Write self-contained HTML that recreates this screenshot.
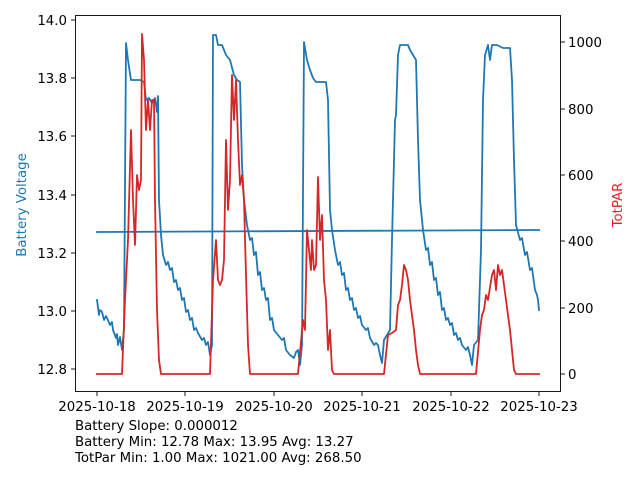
<!DOCTYPE html>
<html><head><meta charset="utf-8"><style>
body{margin:0;background:#fff;}
svg{display:block;font-family:"DejaVu Sans","Liberation Sans",sans-serif;}
</style></head><body>
<svg width="640" height="480" viewBox="0 0 640 480" xmlns="http://www.w3.org/2000/svg">
<rect width="640" height="480" fill="#fff"/>
<g fill="none" stroke-linejoin="round" stroke-linecap="square">
<polyline stroke="#1f77b4" stroke-width="1.8" points="97,300 99,315 100,310 102,312 104,320 106,316 107,318 110,325 112,322 113,330 116,338 117,334 118,345 120,337 122,350 124,330 126,43 128,60 131,80 140,80 144,82 146,100 149,98 152,103 155,98 157,112 158,96 159,200 161,235 163,255 166,265 168,262 170,270 172,268 174,282 176,280 178,290 180,288 182,300 184,298 186,312 188,310 190,320 192,318 194,330 196,328 198,333 202,340 204,338 206,345 208,342 210,355 212,345 213,35 216,35 218,45 222,45 226,55 230,60 234,75 237,80 240,82 242,165 244,200 247,225 250,240 252,238 254,255 256,252 258,275 260,272 262,290 264,288 266,300 268,298 270,320 272,318 274,330 278,335 282,340 284,338 286,350 290,355 294,358 296,352 298,350 300,365 302,345 304,42 307,60 310,70 313,78 316,82 326,82 328,100 330,210 332,230 335,250 338,265 340,262 342,275 344,273 346,290 348,288 350,300 352,298 354,310 356,308 358,318 360,316 362,325 366,330 368,328 370,338 374,345 376,343 378,345 380,355 382,363 384,340 390,330 392,240 395,120 396,115 398,55 400,45 408,45 410,50 413,55 416,60 418,140 420,200 423,230 426,250 428,248 430,265 432,262 434,280 436,278 438,295 440,292 442,310 444,308 446,320 448,318 450,325 452,323 454,335 456,333 458,340 460,338 462,345 466,350 468,347 470,355 472,365 474,345 478,340 481,250 483,100 485,55 488,45 490,60 492,45 497,45 503,48 510,48 512,80 514,160 516,225 520,240 522,238 525,255 527,252 530,270 532,268 535,290 537,295 538,300 539,310"/>
<line x1="97" y1="232" x2="539" y2="230" stroke="#1f77b4" stroke-width="1.8"/>
<polyline stroke="#d62728" stroke-width="1.8" points="97,374 122,374 125,300 128,240 131,130 133,200 135,245 137,175 139,190 141,180 142,34 144,60 146,130 148,100 150,130 152,100 154,100 155,200 157,310 159,360 161,374 210,374 213,280 216,240 218,280 220,285 222,280 224,260 226,140 228,210 230,180 232,75 234,120 236,80 238,140 240,185 242,175 244,200 246,275 248,345 250,374 298,374 303,320 305,330 307,230 309,250 311,270 312,240 314,270 316,265 318,177 320,240 322,215 324,280 326,300 328,350 330,330 332,370 334,374 384,374 388,335 392,333 396,330 398,305 400,300 402,285 404,265 406,270 408,280 410,300 414,330 416,350 418,365 420,374 476,374 480,330 482,315 484,310 486,295 488,300 492,275 494,270 496,290 498,265 500,275 502,270 504,285 506,300 510,330 514,370 516,374 539,374"/>
</g>
<rect x="75.5" y="15.5" width="485" height="376" fill="none" stroke="#000" stroke-width="0.9"/>
<g stroke="#000" stroke-width="0.9">
<line x1="71" y1="369" x2="75" y2="369"/><line x1="71" y1="311" x2="75" y2="311"/><line x1="71" y1="253" x2="75" y2="253"/><line x1="71" y1="195" x2="75" y2="195"/><line x1="71" y1="136" x2="75" y2="136"/><line x1="71" y1="78" x2="75" y2="78"/><line x1="71" y1="20" x2="75" y2="20"/>
<line x1="561" y1="374" x2="565" y2="374"/><line x1="561" y1="308" x2="565" y2="308"/><line x1="561" y1="241" x2="565" y2="241"/><line x1="561" y1="175" x2="565" y2="175"/><line x1="561" y1="109" x2="565" y2="109"/><line x1="561" y1="42" x2="565" y2="42"/>
<line x1="97" y1="392" x2="97" y2="396"/><line x1="185" y1="392" x2="185" y2="396"/><line x1="274" y1="392" x2="274" y2="396"/><line x1="362" y1="392" x2="362" y2="396"/><line x1="451" y1="392" x2="451" y2="396"/><line x1="539" y1="392" x2="539" y2="396"/>
</g>
<g font-size="13.33" fill="#000">
<g text-anchor="end">
<text x="67" y="374">12.8</text><text x="67" y="316">13.0</text><text x="67" y="258">13.2</text><text x="67" y="200">13.4</text><text x="67" y="141">13.6</text><text x="67" y="83">13.8</text><text x="67" y="25">14.0</text>
</g>
<text x="568" y="379">0</text><text x="568" y="313">200</text><text x="568" y="246">400</text><text x="568" y="180">600</text><text x="568" y="114">800</text><text x="568" y="47">1000</text>
<g text-anchor="middle">
<text x="97" y="411">2025-10-18</text><text x="185" y="411">2025-10-19</text><text x="274" y="411">2025-10-20</text><text x="362" y="411">2025-10-21</text><text x="451" y="411">2025-10-22</text><text x="539" y="411">2025-10-23</text>
</g>
<text x="75" y="430">Battery Slope: 0.000012</text>
<text x="75" y="446">Battery Min: 12.78 Max: 13.95 Avg: 13.27</text>
<text x="75" y="462">TotPar Min: 1.00 Max: 1021.00 Avg: 268.50</text>
<text transform="translate(26,205) rotate(-90)" text-anchor="middle" fill="#1f77b4">Battery Voltage</text>
<text transform="translate(622,205) rotate(-90)" text-anchor="middle" fill="#d62728">TotPAR</text>
</g>
</svg>
</body></html>
